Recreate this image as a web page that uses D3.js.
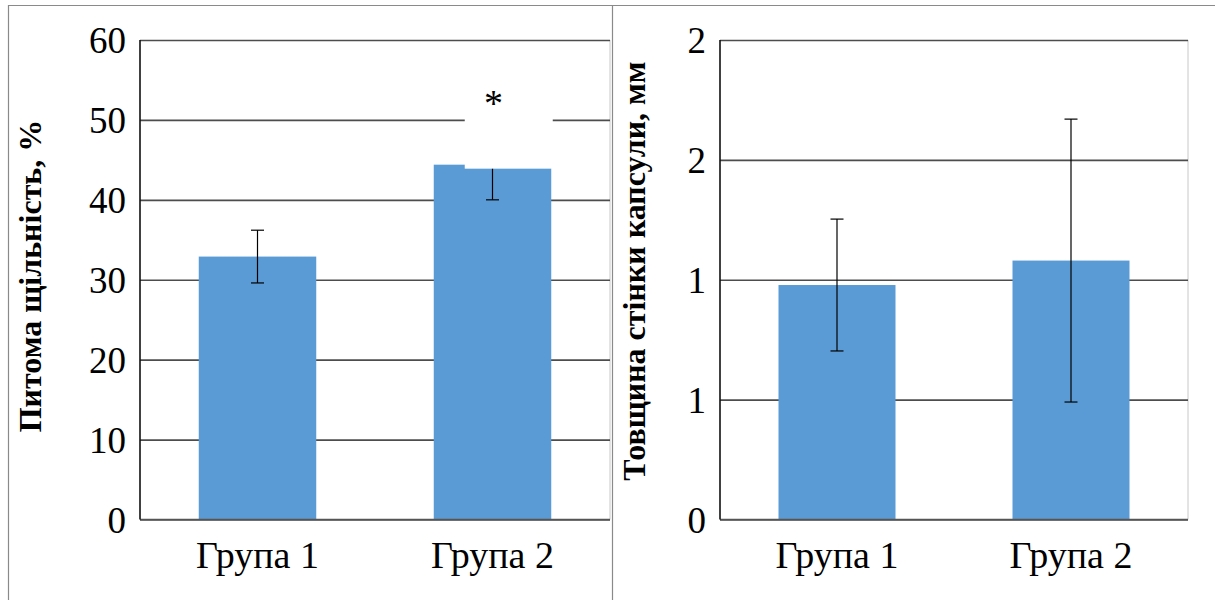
<!DOCTYPE html>
<html><head><meta charset="utf-8">
<script src="https://cdn.jsdelivr.net/npm/d3@7"></script>
<style>body{margin:0;background:#fff}svg{display:block}</style>
</head><body>
<svg id="c" width="1215" height="600"></svg>
<script>
const groups = ["Група 1", "Група 2"];
// Left panel: specific density, %
const densityValues = [32.9, 44.4];
const densityErrors = [3.3, 4.4];
const densityTicks = [0, 10, 20, 30, 40, 50, 60];
const densityTickLabels = ["0", "10", "20", "30", "40", "50", "60"];
const densityTitle = "Питома щільність, %";
const densityMark = "*";
const densityMaskRange = [43.9, 55]; // white label box behind the asterisk
// Right panel: capsule wall thickness, mm
const thicknessValues = [0.978, 1.08];
const thicknessErrors = [0.275, 0.59];
const thicknessTicks = [0, 0.5, 1, 1.5, 2];
const thicknessTickLabels = ["0", "1", "1", "2", "2"];
const thicknessTitle = "Товщина стінки капсули, мм";

const svg = d3.select("#c");
const FONT = "'Liberation Serif','Times New Roman',serif";
const BAR = "#5B9BD5";
const GRID = "#4d4d4d";

// outer frame
svg.append("line").attr("x1", 8).attr("x2", 1215).attr("y1", 5.5).attr("y2", 5.5).attr("stroke", "#8a8a8a").attr("stroke-width", 1.2);
svg.append("line").attr("x1", 8.5).attr("x2", 8.5).attr("y1", 5).attr("y2", 600).attr("stroke", "#8a8a8a").attr("stroke-width", 1.2);
svg.append("line").attr("x1", 612.5).attr("x2", 612.5).attr("y1", 5).attr("y2", 600).attr("stroke", "#8a8a8a").attr("stroke-width", 1.2);

function panel(cfg) {
  const g = svg.append("g");
  const x = d3.scaleBand().domain(groups).range([cfg.x0, cfg.x1]).paddingInner(0.5).paddingOuter(0.25);
  const y = d3.scaleLinear().domain(cfg.domain).range([519.5, 40]);

  // plot area right border
  g.append("line").attr("x1", cfg.x1).attr("x2", cfg.x1).attr("y1", 40).attr("y2", 519.5).attr("stroke", "#c8c8c8").attr("stroke-width", 1);

  // gridlines + tick labels
  const yAxis = d3.axisLeft(y).tickValues(cfg.ticks).tickSize(-(cfg.x1 - cfg.x0)).tickPadding(14)
    .tickFormat((d, i) => cfg.labels[i]);
  const ax = g.append("g").attr("transform", `translate(${cfg.x0},0)`).call(yAxis);
  ax.select(".domain").remove();
  ax.selectAll(".tick line").attr("stroke", GRID).attr("stroke-width", 1.6);
  ax.selectAll(".tick text").attr("font-family", FONT).attr("font-size", 37).attr("fill", "#000").attr("dy", "0.34em");

  // bars
  g.selectAll("rect.bar").data(cfg.values).join("rect").attr("class", "bar")
    .attr("x", (d, i) => x(groups[i])).attr("width", x.bandwidth())
    .attr("y", d => y(d)).attr("height", d => y(0) - y(d)).attr("fill", BAR);

  // error bars
  const eb = g.selectAll("g.eb").data(cfg.values).join("g").attr("class", "eb");
  eb.append("line").attr("x1", (d, i) => x(groups[i]) + x.bandwidth() / 2).attr("x2", (d, i) => x(groups[i]) + x.bandwidth() / 2)
    .attr("y1", (d, i) => y(d + cfg.errors[i])).attr("y2", (d, i) => y(d - cfg.errors[i])).attr("stroke", "#000").attr("stroke-width", 1.2);
  [1, -1].forEach(s => {
    eb.append("line").attr("x1", (d, i) => x(groups[i]) + x.bandwidth() / 2 - 6.5).attr("x2", (d, i) => x(groups[i]) + x.bandwidth() / 2 + 6.5)
      .attr("y1", (d, i) => y(d + s * cfg.errors[i])).attr("y2", (d, i) => y(d + s * cfg.errors[i])).attr("stroke", "#000").attr("stroke-width", 1.2);
  });

  // axis lines
  g.append("line").attr("x1", cfg.x0).attr("x2", cfg.x1).attr("y1", y(0)).attr("y2", y(0)).attr("stroke", "#555").attr("stroke-width", 1.6);
  g.append("line").attr("x1", cfg.x0).attr("x2", cfg.x0).attr("y1", y(cfg.domain[1])).attr("y2", y(0)).attr("stroke", "#111").attr("stroke-width", 1.6);

  // category labels
  g.selectAll("text.cat").data(groups).join("text").attr("class", "cat")
    .attr("x", d => x(d) + x.bandwidth() / 2).attr("y", 568).attr("text-anchor", "middle")
    .attr("font-family", FONT).attr("font-size", 38).text(d => d);

  // title
  g.append("text").attr("transform", `translate(${cfg.titleX},${cfg.titleY}) rotate(-90)`)
    .attr("text-anchor", "middle").attr("font-family", FONT).attr("font-weight", "bold").attr("font-size", cfg.titleSize)
    .text(cfg.title);
  return {g, x, y};
}

const L = panel({x0: 140, x1: 610, domain: [0, 60], ticks: densityTicks, labels: densityTickLabels,
  values: densityValues, errors: densityErrors, title: densityTitle, titleX: 41, titleY: 276, titleSize: 32});
const R = panel({x0: 720, x1: 1188, domain: [0, 2], ticks: thicknessTicks, labels: thicknessTickLabels,
  values: thicknessValues, errors: thicknessErrors, title: thicknessTitle, titleX: 645, titleY: 271, titleSize: 32});

// white label box and asterisk on group 2 of the left panel
const cx = L.x(groups[1]);
L.g.append("rect").attr("x", cx + 31).attr("width", 88)
  .attr("y", L.y(densityMaskRange[1])).attr("height", L.y(densityMaskRange[0]) - L.y(densityMaskRange[1])).attr("fill", "#fff");
L.g.append("text").attr("x", cx + L.x.bandwidth() / 2 + 1).attr("y", 116).attr("text-anchor", "middle")
  .attr("font-family", FONT).attr("font-size", 38).text(densityMark);
</script>
</body></html>
